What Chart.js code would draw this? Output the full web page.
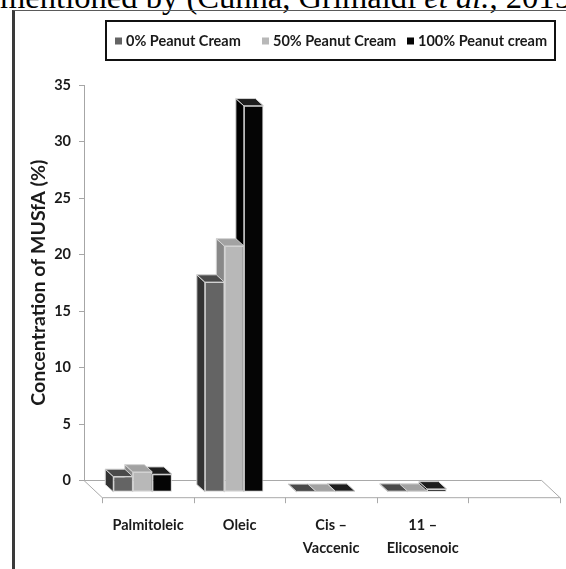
<!DOCTYPE html>
<html>
<head>
<meta charset="utf-8">
<script src="https://cdn.jsdelivr.net/npm/chart.js@4.4.1/dist/chart.umd.min.js"></script>
<style>
  html, body { margin: 0; padding: 0; background: #fff; }
  body { width: 566px; height: 569px; position: relative; overflow: hidden; }
  #caption {
    position: absolute; left: 0; top: -19px; white-space: nowrap;
    font-family: "Liberation Serif", "Times New Roman", serif;
    font-size: 32.6px; line-height: 32px; color: #000;
  }
  #frame {
    position: absolute; left: 12px; top: 10px; right: -4px; bottom: -4px;
    border-left: 3px solid #3a3a3a; border-top: 1px solid #5a5a5a;
  }
  canvas { position: absolute; left: 0; top: 0; }
</style>
</head>
<body>
<div id="caption">mentioned by (Cunha, Grimaldi <i>et al.</i>, 2015)</div>
<div id="frame"></div>
<canvas id="chart" width="566" height="569"></canvas>
<script>
// Fatty acid categories (last slot is an empty category on the floor)
const categories = ['Palmitoleic', 'Oleic', ['Cis –', 'Vaccenic'], ['11 –', 'Elicosenoic'], ''];
const seriesNames = ['0% Peanut Cream', '50% Peanut Cream', '100% Peanut cream'];

// Concentration of MUSFA (%)
const cream0   = [1.4, 18.6, 0.08, 0.1, null];
const cream50  = [1.8, 21.8, 0.08, 0.1, null];
const cream100 = [1.6, 34.2, 0.1, 0.3, null];

const yTickValues = [0, 5, 10, 15, 20, 25, 30, 35];

// Face shading per series: front, top, left side
const faceFront = ['#646464', '#b8b8b8', '#050505'];
const faceTop   = ['#4a4a4a', '#a2a2a2', '#1e1e1e'];
const faceSide  = ['#333333', '#888888', '#000000'];
const edgeColor = '#d2d2d2';

// Oblique projection offsets in pixels
const FRONT = { dx: 12.8, dy: 11.8 };  // column front plane relative to the back wall
const DEPTH = { dx: -8, dy: -7.3 };    // column depth, receding towards the back wall
const FLOOR = { dx: 18.3, dy: 17.2 };  // full floor depth

const AREA = { left: 84, right: 541.7, top: 85, bottom: 480.5 };
const FONT = 'Lato, "Open Sans", sans-serif';
const TEXT = '#1a1a1a';

// Legend layout: frame and the left edge of each swatch
const LEGEND_BOX = { x: 106, y: 21, w: 449, h: 39 };
const LEGEND_SWATCH_X = [115, 262, 407];

function face(ctx, pts, fill) {
  ctx.beginPath();
  ctx.moveTo(pts[0][0], pts[0][1]);
  for (let i = 1; i < pts.length; i++) ctx.lineTo(pts[i][0], pts[i][1]);
  ctx.closePath();
  ctx.fillStyle = fill;
  ctx.fill();
  ctx.strokeStyle = edgeColor;
  ctx.lineWidth = 1;
  ctx.stroke();
}

// Floor, category ticks and the top/side faces of the columns.
// Front faces are drawn by Chart.js itself, shifted onto the front plane.
const columns3d = {
  id: 'columns3d',
  beforeDatasetsDraw(chart) {
    const { ctx, chartArea: a, scales: { x } } = chart;
    const n = categories.length;
    const step = (a.right - a.left) / n;

    ctx.save();
    ctx.beginPath();
    ctx.moveTo(a.left, a.bottom);
    ctx.lineTo(a.right, a.bottom);
    ctx.lineTo(a.right + FLOOR.dx, a.bottom + FLOOR.dy);
    ctx.lineTo(a.left + FLOOR.dx, a.bottom + FLOOR.dy);
    ctx.closePath();
    ctx.fillStyle = '#ffffff';
    ctx.fill();
    ctx.strokeStyle = '#a9a9a9';
    ctx.lineWidth = 1;
    ctx.stroke();

    ctx.beginPath();
    for (let i = 0; i <= n; i++) {
      const edgeX = (i < n ? x.getPixelForValue(i) - step / 2 : x.getPixelForValue(n - 1) + step / 2) + FLOOR.dx;
      ctx.moveTo(Math.round(edgeX) + 0.5, a.bottom + FLOOR.dy);
      ctx.lineTo(Math.round(edgeX) + 0.5, a.bottom + FLOOR.dy + 5.5);
    }
    ctx.stroke();

    const count = chart.data.datasets.length;
    for (let i = 0; i < n; i++) {
      for (let d = count - 1; d >= 0; d--) {
        const v = chart.data.datasets[d].data[i];
        if (v === null || v === undefined) continue;
        const el = chart.getDatasetMeta(d).data[i];
        const p = el.getProps(['x', 'y', 'base', 'width'], true);
        const x0 = p.x - p.width / 2 + FRONT.dx;
        const x1 = p.x + p.width / 2 + FRONT.dx;
        const yt = p.y + FRONT.dy;
        const yb = p.base + FRONT.dy;
        face(ctx, [[x0, yt], [x0, yb], [x0 + DEPTH.dx, yb + DEPTH.dy], [x0 + DEPTH.dx, yt + DEPTH.dy]], faceSide[d]);
        face(ctx, [[x0, yt], [x1, yt], [x1 + DEPTH.dx, yt + DEPTH.dy], [x0 + DEPTH.dx, yt + DEPTH.dy]], faceTop[d]);
      }
    }
    ctx.restore();

    ctx.save();
    ctx.translate(FRONT.dx, FRONT.dy);
  },
  afterDatasetsDraw(chart) {
    chart.ctx.restore();
  }
};

// Boxed legend above the plot
const boxedLegend = {
  id: 'boxedLegend',
  afterDraw(chart) {
    const ctx = chart.ctx;
    const b = LEGEND_BOX;
    ctx.save();
    ctx.lineWidth = 2;
    ctx.strokeStyle = '#111111';
    ctx.strokeRect(b.x, b.y, b.w, b.h);
    ctx.font = 'bold 14.5px ' + FONT;
    ctx.textBaseline = 'middle';
    ctx.textAlign = 'left';
    const cy = b.y + b.h / 2;
    chart.data.datasets.forEach((ds, i) => {
      const sx = LEGEND_SWATCH_X[i];
      ctx.fillStyle = ds.backgroundColor;
      ctx.fillRect(sx, cy - 3, 7, 7);
      ctx.fillStyle = TEXT;
      ctx.fillText(ds.label, sx + 11, cy + 0.5);
    });
    ctx.restore();
  }
};

const seriesValues = [cream0, cream50, cream100];

new Chart(document.getElementById('chart'), {
  type: 'bar',
  data: {
    labels: categories,
    datasets: seriesValues.map((vals, i) => ({
      label: seriesNames[i],
      data: vals,
      backgroundColor: faceFront[i],
      borderColor: edgeColor,
      borderWidth: 1,
      borderSkipped: false,
      categoryPercentage: 0.64,
      barPercentage: 1,
      clip: false
    }))
  },
  options: {
    responsive: false,
    animation: false,
    devicePixelRatio: 1,
    layout: { padding: { top: AREA.top, right: 566 - AREA.right, left: 0, bottom: 0 } },
    plugins: { legend: { display: false }, tooltip: { enabled: false } },
    scales: {
      x: {
        type: 'category',
        offset: true,
        grid: { display: false, drawTicks: false },
        border: { display: false },
        ticks: {
          autoSkip: false,
          maxRotation: 0,
          padding: 33.5,
          labelOffset: FLOOR.dx,
          color: TEXT,
          font: { family: FONT, weight: 'bold', size: 14.5, lineHeight: 1.6 }
        },
        afterFit(scale) { scale.height = 569 - AREA.bottom; }
      },
      y: {
        min: 0,
        max: 35,
        afterBuildTicks(scale) { scale.ticks = yTickValues.map(v => ({ value: v })); },
        grid: { drawOnChartArea: false, drawTicks: true, tickLength: 5, color: '#a6a6a6' },
        border: { display: true, color: '#a6a6a6' },
        ticks: {
          padding: 8,
          color: TEXT,
          font: { family: FONT, weight: 'bold', size: 14.5 }
        },
        title: {
          display: true,
          text: 'Concentration of MUSfA (%)',
          color: TEXT,
          font: { family: FONT, weight: 'bold', size: 19.5 },
          padding: { top: 27, bottom: 0 }
        },
        afterFit(scale) { scale.width = AREA.left; }
      }
    }
  },
  plugins: [columns3d, boxedLegend]
});
</script>
</body>
</html>
